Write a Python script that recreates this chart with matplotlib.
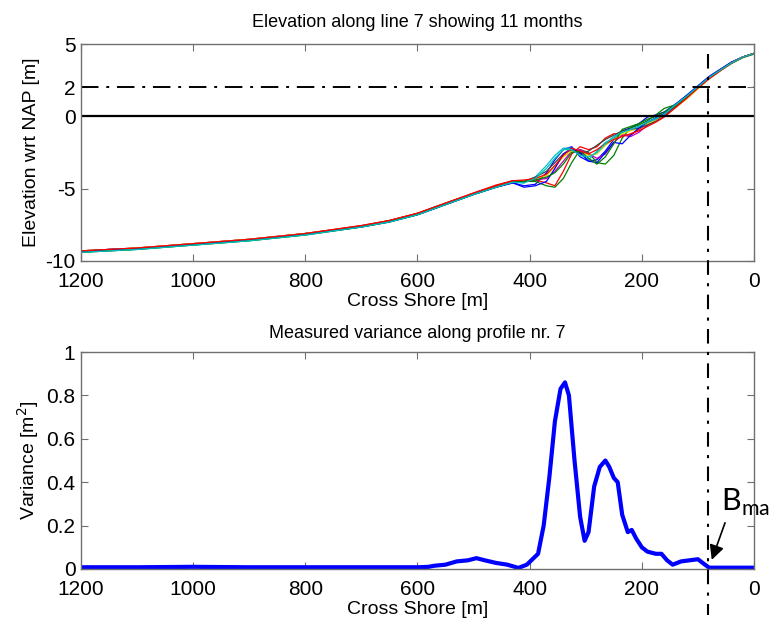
import numpy as np
import matplotlib
matplotlib.use('Agg')
import matplotlib.pyplot as plt
from matplotlib.transforms import blended_transform_factory
from matplotlib.lines import Line2D

plt.rcParams['font.family'] = ['Liberation Sans', 'DejaVu Sans']

# ---------- datos: perfiles de elevación (11 meses) ----------
cross_x = [1200, 1150, 1100, 1050, 1000, 900, 800, 700, 650, 600, 550, 500, 460, 430,
           410, 390, 370, 355, 340, 325, 310, 295, 280, 265, 250, 235, 220, 205, 190,
           175, 160, 140, 120, 100, 80, 60, 40, 20, 0]

month_01 = [-9.3, -9.2, -9.1, -8.95, -8.8, -8.5, -8.1, -7.6, -7.25, -6.8, -6.1, -5.4, -4.9, -4.6,
            -4.8, -4.7, -3.9, -3.0, -2.3, -2.1, -2.8, -3.1, -3.0, -2.4, -1.6, -1.0, -0.8, -0.5, -0.05,
            0.1, 0.3, 0.85, 1.45, 2.1, 2.75, 3.25, 3.75, 4.1, 4.35]
month_02 = [-9.35, -9.25, -9.15, -9.0, -8.85, -8.55, -8.1, -7.6, -7.2, -6.7, -6.0, -5.35, -4.8, -4.45,
            -4.5, -4.5, -4.8, -4.9, -4.3, -3.2, -2.3, -2.5, -3.2, -3.3, -2.7, -1.5, -0.8, -0.6, -0.3,
            0.1, 0.55, 0.8, 1.3, 1.95, 2.6, 3.15, 3.65, 4.05, 4.3]
month_03 = [-9.3, -9.2, -9.1, -8.95, -8.8, -8.5, -8.1, -7.55, -7.2, -6.7, -6.0, -5.3, -4.75, -4.45,
            -4.5, -4.4, -4.6, -4.8, -3.8, -2.6, -2.1, -2.3, -2.1, -1.5, -1.2, -1.3, -1.3, -0.9, -0.5,
            -0.2, 0.05, 0.7, 1.35, 2.0, 2.65, 3.2, 3.7, 4.1, 4.35]
month_04 = [-9.4, -9.3, -9.2, -9.05, -8.9, -8.6, -8.2, -7.65, -7.3, -6.8, -6.1, -5.4, -4.9, -4.55,
            -4.6, -4.2, -3.4, -2.7, -2.2, -2.2, -2.6, -3.0, -2.4, -1.8, -1.5, -1.1, -0.9, -0.7, -0.5,
            -0.2, 0.15, 0.8, 1.4, 2.05, 2.7, 3.2, 3.7, 4.1, 4.35]
month_05 = [-9.35, -9.25, -9.15, -9.0, -8.85, -8.55, -8.15, -7.6, -7.25, -6.75, -6.05, -5.35, -4.85, -4.5,
            -4.5, -4.4, -4.3, -3.8, -3.1, -2.4, -2.3, -2.6, -2.9, -2.6, -1.8, -1.3, -1.4, -1.1, -0.6,
            -0.3, 0.05, 0.65, 1.3, 2.0, 2.65, 3.2, 3.7, 4.1, 4.35]
month_06 = [-9.3, -9.2, -9.1, -8.95, -8.8, -8.5, -8.1, -7.6, -7.25, -6.75, -6.05, -5.35, -4.85, -4.5,
            -4.5, -4.3, -4.1, -3.5, -2.8, -2.4, -2.5, -2.7, -2.6, -2.0, -1.6, -1.2, -1.0, -0.8, -0.5,
            -0.3, 0.0, 0.6, 1.2, 1.9, 2.6, 3.15, 3.7, 4.1, 4.35]
month_07 = [-9.35, -9.25, -9.15, -9.0, -8.85, -8.55, -8.15, -7.6, -7.25, -6.75, -6.05, -5.35, -4.85, -4.5,
            -4.5, -4.2, -3.8, -3.2, -2.6, -2.3, -2.6, -2.4, -2.0, -1.6, -1.3, -1.0, -0.9, -0.8, -0.6,
            -0.35, 0.0, 0.7, 1.35, 2.05, 2.7, 3.2, 3.7, 4.1, 4.35]
month_08 = [-9.35, -9.2, -9.15, -9.0, -8.85, -8.55, -8.15, -7.65, -7.3, -6.8, -6.1, -5.4, -4.9, -4.6,
            -4.9, -4.8, -4.5, -3.6, -2.6, -2.2, -2.5, -3.1, -3.2, -2.5, -1.8, -1.9, -1.3, -0.8, -0.4,
            -0.1, 0.2, 0.8, 1.45, 2.1, 2.75, 3.25, 3.75, 4.1, 4.35]
month_09 = [-9.4, -9.3, -9.2, -9.05, -8.9, -8.6, -8.2, -7.65, -7.3, -6.8, -6.1, -5.4, -4.9, -4.55,
            -4.5, -4.4, -4.2, -3.9, -3.3, -2.5, -2.4, -2.9, -3.3, -2.8, -1.9, -0.9, -0.7, -0.5, -0.2,
            0.0, 0.3, 0.75, 1.35, 2.0, 2.65, 3.2, 3.7, 4.1, 4.35]
month_10 = [-9.3, -9.2, -9.1, -8.95, -8.8, -8.5, -8.1, -7.55, -7.2, -6.7, -6.0, -5.3, -4.8, -4.45,
            -4.4, -4.3, -4.0, -3.4, -2.7, -2.2, -2.4, -2.6, -2.3, -1.9, -1.6, -1.4, -1.2, -1.0, -0.7,
            -0.4, -0.05, 0.6, 1.25, 1.95, 2.6, 3.15, 3.7, 4.1, 4.35]
month_11 = [-9.4, -9.3, -9.2, -9.05, -8.9, -8.6, -8.2, -7.65, -7.3, -6.8, -6.1, -5.4, -4.9, -4.55,
            -4.6, -4.3, -3.6, -2.9, -2.3, -2.3, -2.7, -2.8, -2.5, -1.9, -1.4, -1.1, -0.9, -0.7, -0.4,
            -0.15, 0.15, 0.8, 1.4, 2.05, 2.7, 3.2, 3.7, 4.1, 4.35]

months = [month_01, month_02, month_03, month_04, month_05, month_06,
          month_07, month_08, month_09, month_10, month_11]

# ---------- datos: varianza medida ----------
var_x = [1200, 1100, 1000, 900, 800, 700, 600, 580, 570, 550, 530, 510, 495, 480, 460, 440,
         420, 405, 395, 385, 375, 365, 355, 345, 337, 330, 320, 310, 302, 295, 285, 275, 265,
         258, 250, 243, 235, 225, 218, 210, 200, 190, 175, 165, 155, 145, 130, 115, 100, 90,
         80, 60, 30, 0]
var_y = [0.008, 0.008, 0.01, 0.008, 0.008, 0.008, 0.008, 0.01, 0.015, 0.02, 0.035, 0.04, 0.05,
         0.04, 0.028, 0.02, 0.005, 0.02, 0.045, 0.07, 0.2, 0.42, 0.68, 0.83, 0.86, 0.8, 0.5,
         0.24, 0.13, 0.17, 0.38, 0.47, 0.5, 0.47, 0.42, 0.4, 0.25, 0.17, 0.18, 0.14, 0.1, 0.08,
         0.07, 0.07, 0.04, 0.02, 0.035, 0.04, 0.045, 0.025, 0.006, 0.006, 0.006, 0.006]

x_bma = 82          # posición de la línea vertical
z_ref = 2           # nivel de referencia

# colores MATLAB clásicos
colors = ['#0000FF', '#008000', '#FF0000', '#00BFBF', '#BF00BF', '#D8D800', '#404040']

# ---------- figura ----------
fig = plt.figure(figsize=(7.77, 6.25), dpi=100)
ax1 = fig.add_axes([0.1042, 0.5824, 0.8662, 0.3472])
ax2 = fig.add_axes([0.1042, 0.0896, 0.8662, 0.3472])

for i, m in enumerate(months):
    ax1.plot(cross_x, m, '-', color=colors[i % len(colors)], lw=0.9)

ax1.axhline(0, color='k', lw=1.6)
ax1.axhline(z_ref, color='k', lw=1.4, ls=(0, (9, 4, 1.5, 4)))

ax2.plot(var_x, var_y, '-', color='#0000FF', lw=3.0)

for ax in (ax1, ax2):
    ax.set_xlim(1200, 0)
    ax.set_xticks([1200, 1000, 800, 600, 400, 200, 0])
    ax.tick_params(direction='in', length=5, top=True, right=True, labelsize=15,
                   color='#707070', pad=4)
    ax.tick_params(axis='x', pad=8)
    for s in ax.spines.values():
        s.set_color('#707070')
        s.set_linewidth(1.0)
    ax.set_xlabel('Cross Shore [m]', fontsize=14, labelpad=1)

ax1.set_ylim(-10, 5)
ax1.set_yticks([-10, -5, 0, 2, 5])
ax1.set_yticklabels(['-10', '-5', '0', '2', '5'])
ax1.set_ylabel('Elevation wrt NAP [m]', fontsize=14, labelpad=4)
ax1.set_title('Elevation along line 7 showing 11 months', fontsize=13, pad=12)

ax2.set_ylim(0, 1)
ax2.set_yticks([0, 0.2, 0.4, 0.6, 0.8, 1])
ax2.set_yticklabels(['0', '0.2', '0.4', '0.6', '0.8', '1'])
ax2.set_ylabel(r'Variance [m$^2$]', fontsize=14, labelpad=4)
ax2.set_title('Measured variance along profile nr. 7', fontsize=13, pad=10)

# línea vertical a través de ambos paneles
tr = blended_transform_factory(ax1.transData, fig.transFigure)
fig.add_artist(Line2D([x_bma, x_bma], [1 - 54 / 625, 1 - 615 / 625], transform=tr,
                      color='k', lw=1.5, ls=(0, (7, 4, 1.5, 4))))

# anotación B_ma
ax2.annotate('', xy=(77, 0.03), xytext=(50, 0.225),
             arrowprops=dict(arrowstyle='-|>', color='k', lw=1.2, mutation_scale=22))
ax2.text(59, 0.27, r'B$_{\mathregular{ma}}$', fontsize=22, family='Lato',
         ha='left', va='baseline', clip_on=False)

fig.savefig('out.png', dpi=100)
